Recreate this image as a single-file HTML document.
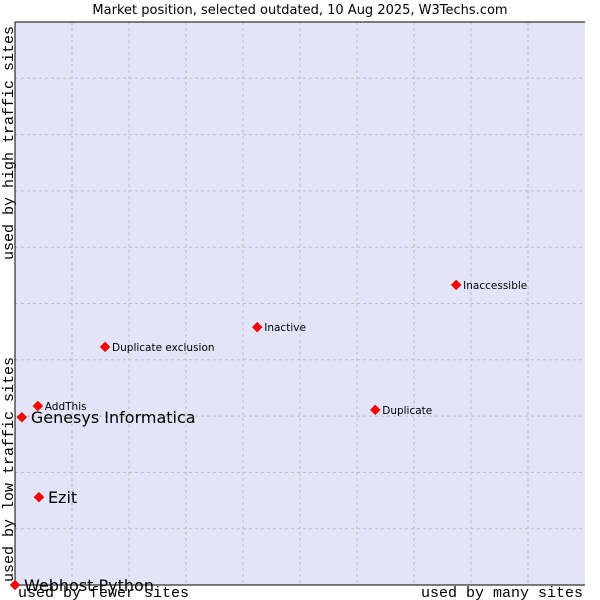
<!DOCTYPE html>
<html><head><meta charset="utf-8"><style>
body{margin:0;background:#fff;}
svg{display:block;font-family:"DejaVu Sans","Liberation Sans",sans-serif;}
.mono{font-family:"Liberation Mono","DejaVu Sans Mono",monospace;font-size:15px;fill:#000;}
</style></head><body>
<svg id="chart" width="600" height="600">
<text x="300" y="14" text-anchor="middle" font-size="13">Market position, selected outdated, 10 Aug 2025, W3Techs.com</text>
<rect x="15" y="22" width="570" height="563" fill="#e4e4f8"/>
<g id="grid"></g>
<line x1="15" y1="22" x2="585" y2="22" stroke="#000"/>
<line x1="15" y1="22" x2="15" y2="585" stroke="#000"/>
<line x1="15" y1="585" x2="585" y2="585" stroke="#000"/>
<g id="points"></g>
<text class="mono" x="18" y="597">used by fewer sites</text>
<text class="mono" x="583" y="597" text-anchor="end">used by many sites</text>
<text class="mono" transform="translate(13,582) rotate(-90)">used by low traffic sites</text>
<text class="mono" transform="translate(13,260) rotate(-90)">used by high traffic sites</text>
</svg>
<script>
const names=["Webhost Python","Ezit","Genesys Informatica","AddThis","Duplicate exclusion","Inactive","Duplicate","Inaccessible"];
const xVals=[0,4.2,1.2,4.0,15.8,42.5,63.2,77.4];
const yVals=[0,15.6,29.8,31.8,42.3,45.8,31.1,53.3];
const bigLabel=[true,true,true,false,false,false,false,false];
const L=15,T=22,W=570,H=563,NS="http://www.w3.org/2000/svg";
const sx=v=>L+v/100*W, sy=v=>T+H-v/100*H;
const g=document.getElementById('grid');
for(let i=1;i<10;i++){
 let a=document.createElementNS(NS,'line');
 
 
 a.setAttribute('x1',sx(i*10));a.setAttribute('x2',sx(i*10));a.setAttribute('y1',T);a.setAttribute('y2',T+H);
 a.setAttribute('stroke','#bbb');a.setAttribute('stroke-dasharray','3,3');g.appendChild(a);
 let b=document.createElementNS(NS,'line');
 
 
 b.setAttribute('y1',sy(i*10));b.setAttribute('y2',sy(i*10));b.setAttribute('x1',L);b.setAttribute('x2',L+W);
 b.setAttribute('stroke','#bbb');b.setAttribute('stroke-dasharray','3,3');g.appendChild(b);
}
const p=document.getElementById('points');
names.forEach((n,i)=>{
 const x=sx(xVals[i]),y=sy(yVals[i]);
 const d=document.createElementNS(NS,'path');
 
 
 d.setAttribute('d',`M${x} ${y-5}L${x+5} ${y}L${x} ${y+5}L${x-5} ${y}Z`);
 d.setAttribute('fill','#f00');d.setAttribute('stroke','#c00');d.setAttribute('stroke-width','0.5');p.appendChild(d);
 const t=document.createElementNS(NS,'text');
 
 
 t.setAttribute('x',x+(bigLabel[i]?9:7));
 t.setAttribute('y',y+(bigLabel[i]?6:4));
 t.setAttribute('font-size',bigLabel[i]?16:10.5);
 t.textContent=n;p.appendChild(t);
});
</script>
</body></html>
